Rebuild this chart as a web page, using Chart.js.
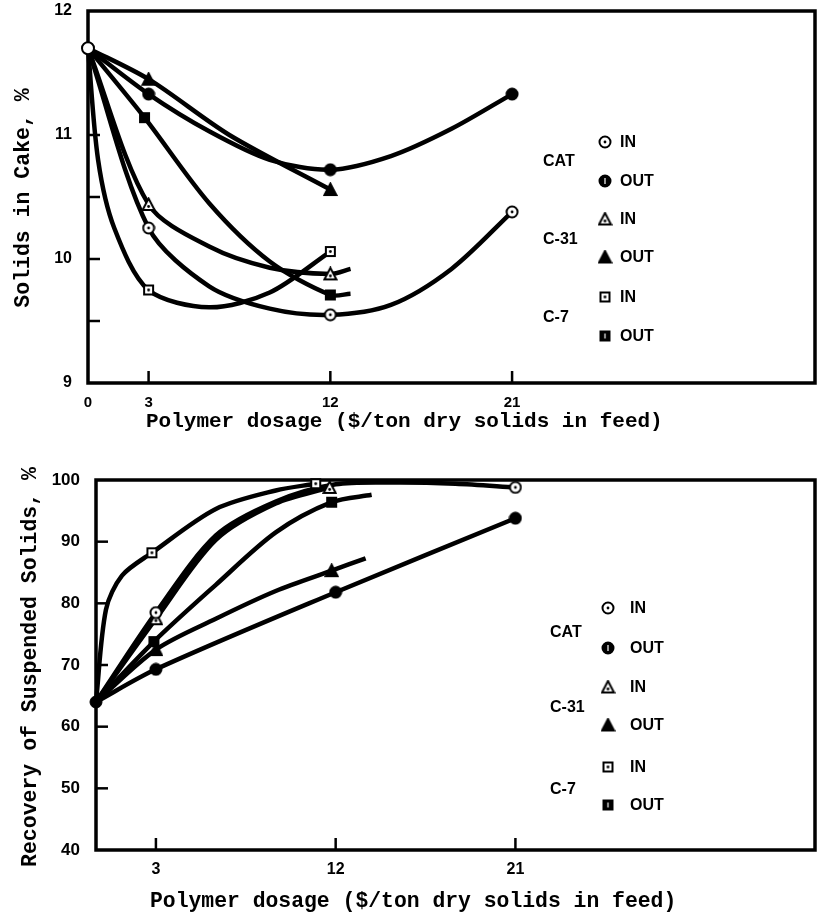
<!DOCTYPE html>
<html>
<head>
<meta charset="utf-8">
<script src="https://cdn.jsdelivr.net/npm/chart.js@4.4.0/dist/chart.umd.min.js"></script>
<style>
  body { margin: 0; background: #fff; width: 823px; height: 916px; overflow: hidden; position: relative; }
  .box { position: absolute; left: 0; width: 823px; }
</style>
</head>
<body>
<div class="box" style="top:0;height:440px"><canvas id="cake"></canvas></div>
<div class="box" style="top:440px;height:476px"><canvas id="recovery"></canvas></div>
<script>
// ---- top panel: solids in cake, % ----
var cakeTicksX = [0, 3, 12, 21];
var cakeTickMarksY = [9.5, 10, 10.5, 11];
var cakeStart = [[0, 11.7]];

var cakeCatIn = [[3, 10.25], [12, 9.55], [21, 10.38]];
var cakeCatInCurve = [[0, 11.7], [3, 10.25], [6, 9.78], [9, 9.6], [12, 9.55], [15, 9.63], [18, 9.92], [21, 10.38]];
var cakeCatOut = [[3, 11.33], [12, 10.72], [21, 11.33]];
var cakeCatOutCurve = [[0, 11.7], [3, 11.33], [6, 11.03], [9, 10.8], [12, 10.72], [15, 10.83], [18, 11.05], [21, 11.33]];
var cakeC31In = [[3, 10.44], [12, 9.88]];
var cakeC31InCurve = [[0, 11.7], [3, 10.44], [6, 10.1], [9, 9.93], [12, 9.88], [13, 9.92]];
var cakeC31Out = [[3, 11.45], [12, 10.56]];
var cakeC31OutCurve = [[0, 11.7], [3, 11.45], [7, 11.0], [12, 10.56]];
var cakeC7In = [[3, 9.75], [12, 10.06]];
var cakeC7InCurve = [[0, 11.7], [0.5, 10.8], [1.3, 10.25], [3, 9.75], [6, 9.61], [9, 9.73], [12, 10.06]];
var cakeC7Out = [[2.8, 11.14], [12, 9.71]];
var cakeC7OutCurve = [[0, 11.7], [2.8, 11.14], [6, 10.45], [9, 9.98], [12, 9.71], [13, 9.72]];

// ---- bottom panel: recovery of suspended solids, % ----
var recTicksX = [3, 12, 21];
var recTickMarksY = [50, 60, 70, 80, 90];
var recStart = [[0, 64]];

var recCatIn = [[3, 78.5], [21, 98.8]];
var recCatInCurve = [[0, 64], [3, 78.5], [6, 91], [9, 96.5], [12, 99.3], [15, 99.6], [18, 99.4], [21, 98.8]];
var recCatOut = [[3, 69.3], [12, 81.8], [21, 93.8]];
var recCatOutCurve = [[0, 64], [3, 69.3], [12, 81.8], [21, 93.8]];
var recC31In = [[3, 77.5], [11.7, 98.8]];
var recC31InCurve = [[0, 64], [3, 77.5], [6, 90.3], [9, 96.2], [11.7, 98.8]];
var recC31Out = [[3, 72.5], [11.8, 85.3]];
var recC31OutCurve = [[0, 64], [3, 72.5], [6, 77.5], [9, 82], [11.8, 85.3], [13.5, 87.3]];
var recC7In = [[2.8, 88.2], [11, 99.4]];
var recC7InCurve = [[0, 64], [0.5, 79], [1.3, 84.5], [2.8, 88.2], [6, 95.3], [9, 98.3], [11, 99.4]];
var recC7Out = [[2.9, 73.8], [11.8, 96.4]];
var recC7OutCurve = [[0, 64], [2.9, 73.8], [6, 83], [9, 91.5], [11.8, 96.4], [13.8, 97.6]];

var legendGroups = ['CAT', 'C-31', 'C-7'];
var legendItems = ['IN', 'OUT'];

var tickFont = '"Liberation Sans", Arial, sans-serif';
var titleFont = '"Liberation Mono", "DejaVu Sans Mono", monospace';

function pts(arr) {
  return arr.map(function (p) { return { x: p[0], y: p[1] }; });
}

// small canvases used as point styles
function marker(shape, filled, size, slit) {
  var s = size || 14;
  var c = document.createElement('canvas');
  c.width = s; c.height = s;
  var g = c.getContext('2d');
  var m = s / 2;
  g.lineWidth = 2;
  g.strokeStyle = '#000';
  g.fillStyle = filled ? '#000' : '#fff';
  g.beginPath();
  if (shape === 'circle') g.arc(m, m, m - 1.5, 0, Math.PI * 2);
  else if (shape === 'triangle') { g.moveTo(m, 1.5); g.lineTo(s - 1.5, s - 2); g.lineTo(1.5, s - 2); g.closePath(); }
  else g.rect(2, 2, s - 4, s - 4);
  g.fill();
  g.stroke();
  if (!filled) {
    g.fillStyle = '#000';
    g.beginPath();
    g.arc(m, shape === 'triangle' ? m + 2 : m, 1.4, 0, Math.PI * 2);
    g.fill();
  } else if (slit) {
    g.strokeStyle = '#fff';
    g.lineWidth = 1.2;
    g.beginPath(); g.moveTo(m, 4); g.lineTo(m, s - 4); g.stroke();
  }
  return c;
}

var mk = {
  catIn: marker('circle', false), catOut: marker('circle', true),
  c31In: marker('triangle', false, 15), c31Out: marker('triangle', true, 15),
  c7In: marker('square', false, 13), c7Out: marker('square', true, 13)
};
var legendMk = [
  [marker('circle', false), marker('circle', true, 14, true)],
  [marker('triangle', false, 15), marker('triangle', true, 15)],
  [marker('square', false, 13), marker('square', true, 13, true)]
];

function curve(data) {
  return { type: 'line', data: pts(data), borderColor: '#000', borderWidth: 4.5, pointRadius: 0,
           tension: 0.3, fill: false, clip: false, order: 2 };
}
function marks(data, img) {
  return { type: 'scatter', data: pts(data), pointStyle: img, pointRadius: 7, showLine: false,
           clip: false, order: 1 };
}

// inward tick marks and the frame
var frame = {
  id: 'frame',
  beforeDatasetsDraw: function (chart, args, opts) {
    var ctx = chart.ctx, a = chart.chartArea, x = chart.scales.x, y = chart.scales.y;
    ctx.save();
    ctx.strokeStyle = '#000';
    ctx.lineWidth = 2.5;
    opts.y.forEach(function (v) {
      var py = y.getPixelForValue(v);
      ctx.beginPath(); ctx.moveTo(a.left, py); ctx.lineTo(a.left + 12, py); ctx.stroke();
    });
    opts.x.forEach(function (v) {
      var px = x.getPixelForValue(v);
      ctx.beginPath(); ctx.moveTo(px, a.bottom); ctx.lineTo(px, a.bottom - 12); ctx.stroke();
    });
    ctx.lineWidth = 3.5;
    ctx.strokeRect(a.left, a.top, a.right - a.left, a.bottom - a.top);
    ctx.restore();
  }
};

// axis titles and the in-plot key
var labels = {
  id: 'labels',
  afterDraw: function (chart, args, o) {
    var ctx = chart.ctx;
    ctx.save();
    ctx.fillStyle = '#000';
    ctx.textBaseline = 'middle';
    ctx.font = 'bold ' + o.xTitleSize + 'px ' + titleFont;
    ctx.textAlign = 'left';
    ctx.fillText('Polymer dosage ($/ton dry solids in feed)', o.xTitle[0], o.xTitle[1]);
    ctx.save();
    ctx.translate(o.yTitle[0], o.yTitle[1]);
    ctx.rotate(-Math.PI / 2);
    ctx.textAlign = 'center';
    ctx.font = 'bold ' + o.yTitleSize + 'px ' + titleFont;
    ctx.fillText(o.yText, 0, 0);
    ctx.restore();

    ctx.font = 'bold 16px ' + tickFont;
    ctx.textAlign = 'left';
    legendGroups.forEach(function (grp, i) {
      ctx.fillText(grp, o.groupX, o.groupY[i]);
      legendItems.forEach(function (it, j) {
        var yy = o.itemY[i * 2 + j];
        var img = legendMk[i][j];
        ctx.drawImage(img, o.markX - img.width / 2, yy - img.height / 2);
        ctx.fillText(it, o.textX, yy + 1);
      });
    });
    ctx.restore();
  }
};

Chart.defaults.color = '#000';
Chart.defaults.font.family = tickFont;

function axisX(min, max, ticks, pad, size, height) {
  return {
    type: 'linear', min: min, max: max,
    afterBuildTicks: function (s) { s.ticks = ticks.map(function (v) { return { value: v }; }); },
    ticks: { padding: pad, autoSkip: false, maxRotation: 0, font: { size: size, weight: 'bold' } },
    grid: { display: false, drawTicks: false },
    border: { display: false },
    afterFit: function (s) { s.height = height; s.paddingLeft = 0; s.paddingRight = 0; }
  };
}
function axisY(min, max, step, pad, size, width) {
  return {
    min: min, max: max,
    ticks: { stepSize: step, padding: pad, font: { size: size, weight: 'bold' } },
    grid: { display: false, drawTicks: false },
    border: { display: false },
    afterFit: function (s) { s.width = width; s.paddingTop = 0; s.paddingBottom = 0; }
  };
}

new Chart(document.getElementById('cake'), {
  type: 'scatter',
  data: {
    datasets: [
      curve(cakeCatInCurve), curve(cakeCatOutCurve), curve(cakeC31InCurve),
      curve(cakeC31OutCurve), curve(cakeC7InCurve), curve(cakeC7OutCurve),
      marks(cakeCatIn, mk.catIn), marks(cakeCatOut, mk.catOut),
      marks(cakeC31In, mk.c31In), marks(cakeC31Out, mk.c31Out),
      marks(cakeC7In, mk.c7In), marks(cakeC7Out, mk.c7Out),
      { type: 'scatter', data: pts(cakeStart), pointStyle: 'circle', pointRadius: 6,
        backgroundColor: '#fff', borderColor: '#000', borderWidth: 2, clip: false, order: 0 }
    ]
  },
  options: {
    responsive: true, maintainAspectRatio: false, animation: false, events: [],
    layout: { padding: { top: 11, right: 6, bottom: 0, left: 0 } },
    scales: {
      x: axisX(0, 36, cakeTicksX, 11, 15, 57),
      y: axisY(9, 12, 1, 16, 16, 88)
    },
    plugins: {
      legend: { display: false }, tooltip: { enabled: false },
      frame: { x: [3, 12, 21], y: cakeTickMarksY },
      labels: {
        xTitle: [146, 422], xTitleSize: 21,
        yTitle: [24, 198], yTitleSize: 21.5, yText: 'Solids in Cake, %',
        groupX: 543, groupY: [162, 240, 318],
        markX: 605, textX: 620, itemY: [142, 181, 219, 257, 297, 336]
      }
    }
  },
  plugins: [frame, labels]
});

new Chart(document.getElementById('recovery'), {
  type: 'scatter',
  data: {
    datasets: [
      curve(recCatInCurve), curve(recCatOutCurve), curve(recC31InCurve),
      curve(recC31OutCurve), curve(recC7InCurve), curve(recC7OutCurve),
      marks(recCatIn, mk.catIn), marks(recCatOut, mk.catOut),
      marks(recC31In, mk.c31In), marks(recC31Out, mk.c31Out),
      marks(recC7In, mk.c7In), marks(recC7Out, mk.c7Out),
      { type: 'scatter', data: pts(recStart), pointStyle: 'circle', pointRadius: 6,
        backgroundColor: '#000', borderColor: '#000', borderWidth: 1, clip: false, order: 0 }
    ]
  },
  options: {
    responsive: true, maintainAspectRatio: false, animation: false, events: [],
    layout: { padding: { top: 40, right: 5, bottom: 0, left: 0 } },
    scales: {
      x: axisX(0, 36, recTicksX, 10, 16, 66),
      y: axisY(40, 100, 10, 16, 17, 96)
    },
    plugins: {
      legend: { display: false }, tooltip: { enabled: false },
      frame: { x: recTicksX, y: recTickMarksY },
      labels: {
        xTitle: [150, 462], xTitleSize: 21.4,
        yTitle: [31, 227], yTitleSize: 21.5, yText: 'Recovery of Suspended Solids, %',
        groupX: 550, groupY: [193, 268, 350],
        markX: 608, textX: 630, itemY: [168, 208, 247, 285, 327, 365]
      }
    }
  },
  plugins: [frame, labels]
});
</script>
</body>
</html>
